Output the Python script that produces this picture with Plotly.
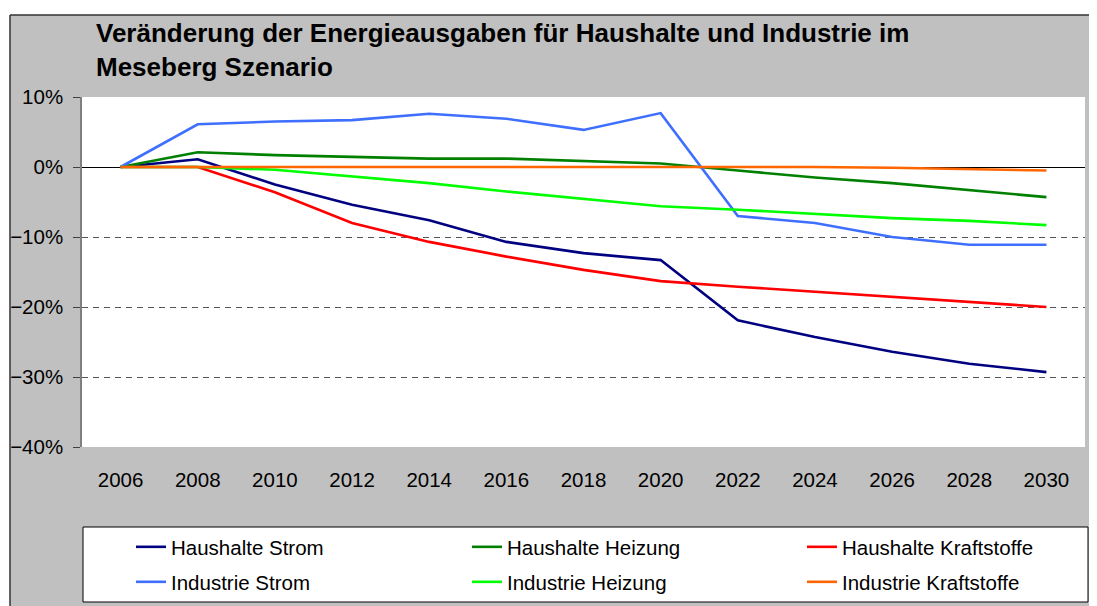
import plotly.graph_objects as go

# ---- data (percent change) ----
years = ["2006", "2008", "2010", "2012", "2014", "2016", "2018",
         "2020", "2022", "2024", "2026", "2028", "2030"]
haushalte_strom = [0, 1.1, -2.5, -5.4, -7.6, -10.7, -12.3, -13.3, -21.9, -24.3, -26.4, -28.1, -29.3]
haushalte_heizung = [0, 2.1, 1.7, 1.5, 1.2, 1.2, 0.9, 0.5, -0.5, -1.5, -2.3, -3.3, -4.3]
haushalte_kraftstoffe = [0, 0, -3.6, -8.0, -10.7, -12.8, -14.7, -16.3, -17.1, -17.8, -18.5, -19.3, -20.0]
industrie_strom = [0, 6.1, 6.5, 6.7, 7.6, 6.9, 5.3, 7.7, -7.0, -8.0, -10.0, -11.1, -11.1]
industrie_heizung = [0, 0, -0.4, -1.4, -2.3, -3.5, -4.5, -5.6, -6.1, -6.7, -7.3, -7.7, -8.3]
industrie_kraftstoffe = [0, 0, 0.1, 0.1, 0.1, 0.1, 0.1, 0.1, 0.1, 0.0, -0.1, -0.3, -0.5]

series_names = ["Haushalte Strom", "Haushalte Heizung", "Haushalte Kraftstoffe",
                "Industrie Strom", "Industrie Heizung", "Industrie Kraftstoffe"]
series_values = [haushalte_strom, haushalte_heizung, haushalte_kraftstoffe,
                 industrie_strom, industrie_heizung, industrie_kraftstoffe]
series_colors = ["#000080", "#008000", "#FF0000", "#3F6FFF", "#00FF00", "#FF6600"]

W, H = 1097, 606
OFF = 8  # page body margin of the html output
# target plot-area edges in page pixels
PL, PR, PT, PB = 82, 1085, 97, 447
YMIN, YMAX = -40, 10
# legend entry positions (page pixels): sample start x per column, row centre y
LEG_COLS = [137, 473, 808]
LEG_ROWS = [547, 582]


def px(x):
    return (x - PL) / (PR - PL)


def py(y):
    return (PB - y) / (PB - PT)


def cx(x):
    return (x - OFF) / W


def cy(y):
    return 1 - (y - OFF) / H


FONT = "Liberation Sans, Arial, sans-serif"
FS = 20.5

fig = go.Figure()
legends = {}
for i, (name, vals, color) in enumerate(zip(series_names, series_values, series_colors)):
    key = f"legend{i + 2}"
    fig.add_trace(go.Scatter(
        x=years, y=vals, name=name, mode="lines",
        line=dict(color=color, width=2.6),
        legend=key,
    ))
    legends[key] = dict(
        orientation="h", xref="container", yref="container",
        xanchor="left", yanchor="middle",
        x=cx(LEG_COLS[i % 3] - 6), y=cy(LEG_ROWS[i // 3]),
        bgcolor="rgba(0,0,0,0)", borderwidth=0,
        font=dict(family=FONT, size=FS),
    )

n = len(years)
boundaries = [i - 0.5 for i in range(n + 1)]

fig.update_layout(
    width=W, height=H, autosize=False,
    showlegend=True,
    margin=dict(l=PL - OFF, r=W - (PR - OFF), t=PT - OFF, b=H - (PB - OFF),
                pad=0, autoexpand=False),
    paper_bgcolor="#C0C0C0",
    plot_bgcolor="#FFFFFF",
    font=dict(family=FONT, size=FS, color="#000000"),
    title=dict(
        text="<b>Veränderung der Energieausgaben für Haushalte und Industrie im<br>Meseberg Szenario</b>",
        font=dict(family=FONT, size=26, color="#000000"),
        x=px(96), xref="paper", xanchor="left",
        y=cy(42), yref="container", yanchor="top",
    ),
    xaxis=dict(
        type="category", range=[-0.5, n - 0.5],
        showgrid=False, zeroline=False, showline=False,
        ticks="outside", ticklen=14, tickcolor="rgba(0,0,0,0)",
        tickfont=dict(size=FS),
    ),
    xaxis2=dict(
        overlaying="x", anchor="free", position=py(PT + (PB - PT) * YMAX / (YMAX - YMIN)),
        range=[-0.5, n - 0.5], tickmode="array", tickvals=boundaries,
        showticklabels=False, ticks="outside", ticklen=6, tickcolor="#000000",
        showline=True, linecolor="#000000", linewidth=1,
        showgrid=False, zeroline=False,
    ),
    yaxis=dict(
        range=[YMIN, YMAX], dtick=10, tick0=0, ticksuffix="%",
        showgrid=True, gridcolor="#555555", gridwidth=1, griddash="6px,5px",
        zeroline=True, zerolinecolor="#000000", zerolinewidth=1,
        showline=True, linecolor="#7F7F7F", linewidth=1.5,
        ticks="outside", ticklen=7, tickcolor="#404040",
        tickfont=dict(size=FS), ticklabelstandoff=6,
    ),
    shapes=[
        # white page margins outside the grey chart area
        dict(type="rect", xref="paper", yref="paper", layer="above",
             x0=px(-20), x1=px(10), y0=py(H + 30), y1=py(-20),
             fillcolor="#FFFFFF", line=dict(width=0)),
        dict(type="rect", xref="paper", yref="paper", layer="above",
             x0=px(-20), x1=px(W + 30), y0=py(15), y1=py(-20),
             fillcolor="#FFFFFF", line=dict(width=0)),
        # chart border
        dict(type="line", xref="paper", yref="paper", layer="above",
             x0=px(10), x1=px(W + 30), y0=py(15), y1=py(15),
             line=dict(color="#333333", width=1.5)),
        dict(type="line", xref="paper", yref="paper", layer="above",
             x0=px(10), x1=px(10), y0=py(15), y1=py(H + 30),
             line=dict(color="#333333", width=1.5)),
        # legend box
        dict(type="rect", xref="paper", yref="paper", layer="below",
             x0=px(83), x1=px(1088), y0=py(602), y1=py(527),
             fillcolor="#FFFFFF", line=dict(color="#000000", width=1)),
    ],
    **legends,
)

fig.write_html("out.html")
